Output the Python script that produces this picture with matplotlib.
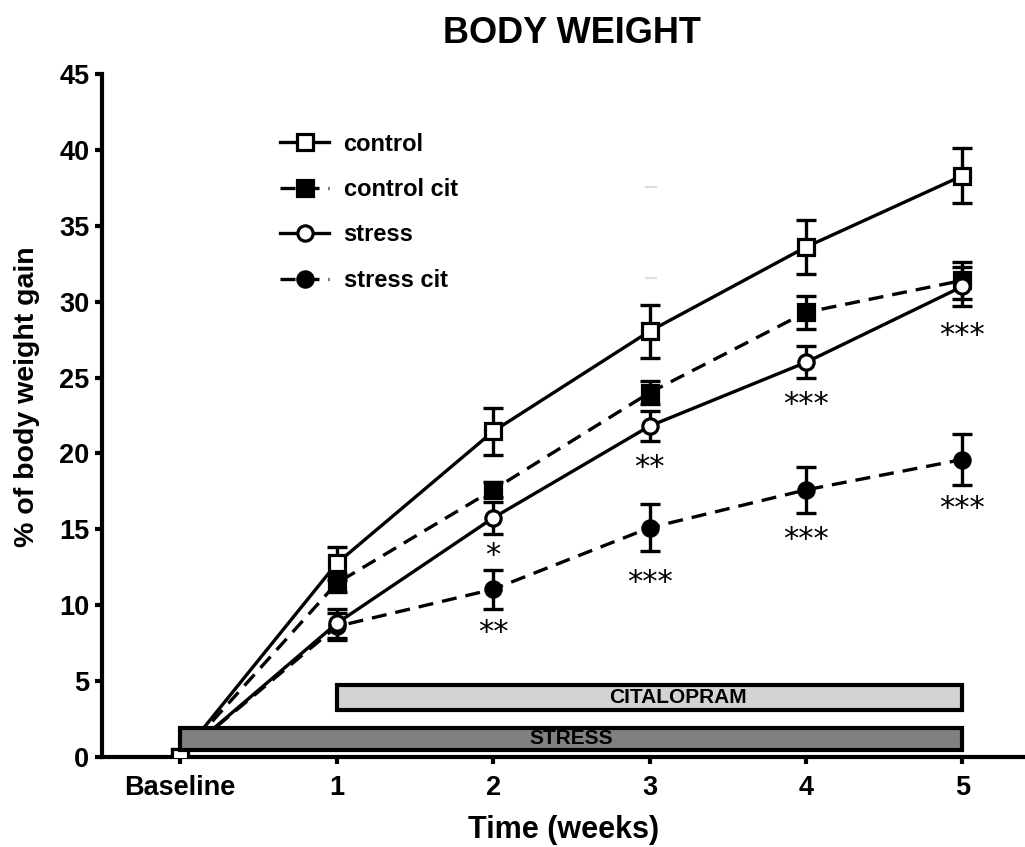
import matplotlib
matplotlib.use("Agg")
import matplotlib.pyplot as plt
from matplotlib.patches import Rectangle

plt.rcParams['font.family'] = ['Liberation Sans', 'DejaVu Sans']
plt.rcParams['font.weight'] = 'bold'

# data
weeks = [0, 1, 2, 3, 4, 5]
week_labels = ["Baseline", "1", "2", "3", "4", "5"]

control = [0, 12.75, 21.45, 28.05, 33.6, 38.3]
control_err = [0, 1.1, 1.55, 1.75, 1.8, 1.8]
control_cit = [0, 11.45, 17.6, 24.0, 29.3, 31.4]
control_cit_err = [0, 0.6, 0.5, 0.75, 1.1, 1.2]
stress = [0, 8.8, 15.75, 21.8, 26.0, 31.0]
stress_err = [0, 0.95, 1.05, 1.0, 1.05, 1.3]
stress_cit = [0, 8.6, 11.05, 15.1, 17.6, 19.6]
stress_cit_err = [0, 0.9, 1.3, 1.55, 1.5, 1.7]

# significance marks (week, y, text)
sig_weeks = [2, 2, 3, 3, 4, 4, 5, 5]
sig_y = [13.3, 8.2, 19.1, 11.5, 23.2, 14.3, 27.8, 16.4]
sig_text = ["*", "**", "**", "***", "***", "***", "***", "***"]

fig = plt.figure(figsize=(10.25, 8.47), dpi=100)
ax = fig.add_axes([0.0995, 0.1063, 0.9005, 0.8063])

dash = (0, (4.5, 2.7))
series = [
    ("control", control, control_err, 's', 'white', '-', 6),
    ("control cit", control_cit, control_cit_err, 's', 'black', dash, 3),
    ("stress", stress, stress_err, 'o', 'white', '-', 5),
    ("stress cit", stress_cit, stress_cit_err, 'o', 'black', dash, 4),
]
handles = []
for name, vals, err, mk, face, ls, z in series:
    ax.errorbar(weeks, vals, yerr=err, fmt='none', ecolor='black',
                elinewidth=2.4, capsize=7, capthick=2.4, zorder=z)
    ln, = ax.plot(weeks, vals, color='black', linestyle=ls, linewidth=2.4,
                  marker=mk, markersize=11, markerfacecolor=face,
                  markeredgecolor='black', markeredgewidth=2.3,
                  label=name, zorder=z + 0.5)
    handles.append(ln)

# treatment bars
ax.add_patch(Rectangle((1, 3.1), 4, 1.64, facecolor='#d3d3d3',
                       edgecolor='black', linewidth=3, zorder=10))
ax.text(3.18, 3.92, "CITALOPRAM", ha='center', va='center',
        fontsize=15, fontweight='bold', zorder=11)
ax.add_patch(Rectangle((0, 0.46), 5, 1.45, facecolor='#808080',
                       edgecolor='black', linewidth=3, zorder=10))
ax.text(2.5, 1.19, "STRESS", ha='center', va='center',
        fontsize=15, fontweight='bold', zorder=11)

for w, y, t in zip(sig_weeks, sig_y, sig_text):
    ax.text(w, y, t, ha='center', va='center', fontsize=22,
            fontweight='normal', family='DejaVu Sans', zorder=12)

# faint marks left on the original
ax.plot([2.98, 3.04], [37.55, 37.55], color='#dddddd', linewidth=1.5, zorder=1)
ax.plot([2.98, 3.04], [31.55, 31.55], color='#dddddd', linewidth=1.5, zorder=1)

ax.set_xlim(-0.5, 5.4)
ax.set_ylim(0, 45)
ax.set_xticks(weeks)
ax.set_xticklabels(week_labels)
ax.set_yticks(range(0, 46, 5))

for s in ['top', 'right']:
    ax.spines[s].set_visible(False)
for s in ['left', 'bottom']:
    ax.spines[s].set_linewidth(3)
ax.tick_params(direction='out', length=5, width=3, labelsize=19.5)
ax.tick_params(axis='x', pad=8)
ax.tick_params(axis='y', pad=4)
for lab in ax.get_xticklabels() + ax.get_yticklabels():
    lab.set_fontweight('bold')

ax.set_xlabel("Time (weeks)", fontsize=22, fontweight='bold', labelpad=10)
ax.set_ylabel("% of body weight gain", fontsize=20.5, fontweight='bold')
ax.yaxis.set_label_coords(-0.067, 0.527)
fig.suptitle("BODY WEIGHT", fontsize=26, fontweight='bold', x=0.558, y=0.981)

fig.legend(handles=handles, loc='upper left', bbox_to_anchor=(0.2615, 0.8575),
           frameon=False, handlelength=2.1, handletextpad=0.6,
           labelspacing=0.95, borderpad=0, prop={'weight': 'bold', 'size': 17})

fig.savefig("out.png", dpi=100)
